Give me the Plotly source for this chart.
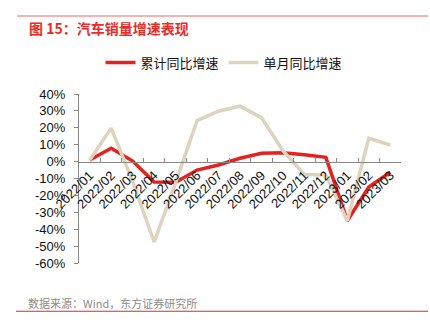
import plotly.graph_objects as go

categories = ["2022/01", "2022/02", "2022/03", "2022/04", "2022/05", "2022/06", "2022/07",
              "2022/08", "2022/09", "2022/10", "2022/11", "2022/12", "2023/01", "2023/02", "2023/03"]
cumulative_yoy = [0.9, 7.9, 0.3, -12.1, -12.2, -5.0, -2.0, 2.0, 4.9, 5.2, 4.0, 2.5, -35.0, -15.0, -6.3]
monthly_yoy = [0.9, 19.8, -11.7, -47.6, -12.6, 24.3, 29.8, 32.8, 26.0, 6.5, -7.7, -8.0, -35.0, 13.8, 9.8]
y_ticks = [40, 30, 20, 10, 0, -10, -20, -30, -40, -50, -60]
y_labels = [f"{v}%" for v in y_ticks]

W, H = 430, 331
L, R, T, B = 79, 401, 93.5, 262.7
Y_MIN, Y_MAX = -60, 40


def px(x):
    return (x - L) / (R - L)


def py(y):
    return (B - y) / (B - T)


FONT = "Liberation Sans, Arial, Noto Sans CJK SC"
CJK = "Noto Sans CJK SC, Liberation Sans"

fig = go.Figure()
fig.add_trace(go.Scatter(x=categories, y=cumulative_yoy, mode="lines", name="累计同比增速",
                         line=dict(color="#e32320", width=3.5)))
fig.add_trace(go.Scatter(x=categories, y=monthly_yoy, mode="lines", name="单月同比增速",
                         line=dict(color="#ddd4be", width=3.5)))

fig.update_layout(
    width=W, height=H,
    margin=dict(l=L, r=W - R, t=T, b=H - B, pad=0),
    paper_bgcolor="white", plot_bgcolor="white",
    font=dict(family=FONT, size=13, color="#111"),
    showlegend=True,
    legend=dict(orientation="h", x=px(224), y=py(62), xanchor="center", yanchor="middle",
                font=dict(family=CJK, size=13, color="#111"), itemwidth=30,
                bgcolor="rgba(0,0,0,0)", traceorder="normal"),
    xaxis=dict(type="category", anchor="free", position=(0 - Y_MIN) / (Y_MAX - Y_MIN),
               showline=True, linecolor="#888", linewidth=1, ticks="inside", ticklen=4,
               tickcolor="#888", tickson="boundaries", tickangle=-45, showgrid=False,
               zeroline=False, tickfont=dict(size=13, color="#111"),
               range=[-0.5, len(categories) - 0.5]),
    yaxis=dict(range=[Y_MIN, Y_MAX], tickvals=y_ticks, ticktext=y_labels, showline=True,
               linecolor="#888", linewidth=1, ticks="outside", ticklen=4, tickcolor="#888",
               showgrid=False, zeroline=False, ticklabelstandoff=6,
               tickfont=dict(size=13, color="#111")),
)

fig.add_annotation(text="<b>图 15：汽车销量增速表现</b>", xref="paper", yref="paper",
                   x=px(27), y=py(27), xanchor="left", yanchor="middle", showarrow=False,
                   font=dict(family=CJK, size=14, color="#ee2a24"))
fig.add_annotation(text="数据来源：Wind，东方证券研究所", xref="paper", yref="paper",
                   x=px(26), y=py(302.5), xanchor="left", yanchor="middle", showarrow=False,
                   font=dict(family=CJK, size=11, color="#8c8c8c"))
fig.add_shape(type="line", xref="paper", yref="paper", x0=px(17), x1=px(428),
              y0=py(15.3), y1=py(15.3), line=dict(color="#f29a96", width=1.5))
fig.add_shape(type="line", xref="paper", yref="paper", x0=px(16), x1=px(428),
              y0=py(311), y1=py(311), line=dict(color="#c9302c", width=1))

fig.write_html("out.html")
